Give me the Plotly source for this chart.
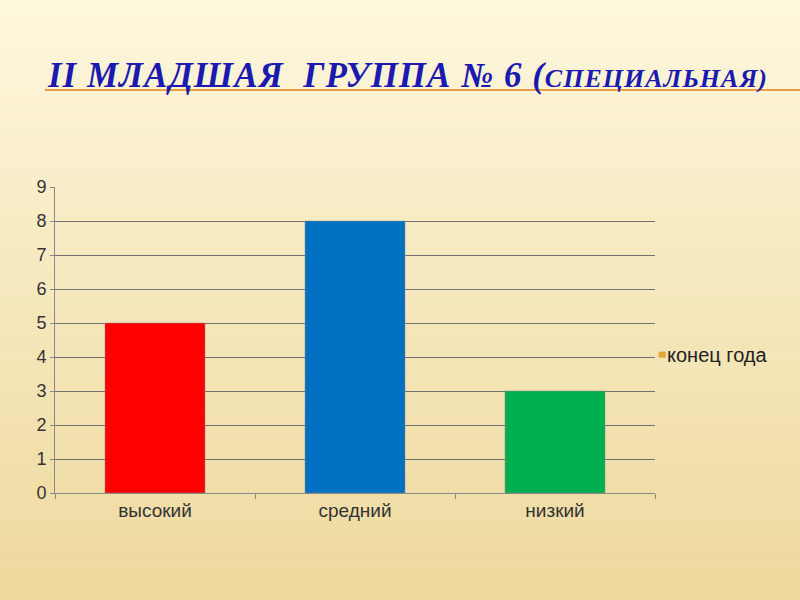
import plotly.graph_objects as go

categories = ["высокий", "средний", "низкий"]
values = [5, 8, 3]
bar_colors = ["#ff0000", "#0070c0", "#00b050"]
series_name = "конец года"
legend_color = "#e0a838"
y_ticks = list(range(0, 10))

fig = go.Figure()

fig.add_trace(go.Bar(
    x=categories,
    y=values,
    name=series_name,
    marker=dict(color=bar_colors, line=dict(color="#8a8a8a", width=0.5)),
    showlegend=False,
))

# background: vertical gradient made of bands
bands = 40
top = (254, 248, 222)
bottom = (238, 216, 155)
shapes = []
for i in range(bands):
    t = i / (bands - 1)
    c = tuple(int(top[k] + (bottom[k] - top[k]) * t) for k in range(3))
    shapes.append(dict(
        type="rect", xref="paper", yref="paper", layer="below",
        x0=-0.2, x1=1.3, y0=1.65 - (i + 1) * 2.1 / bands, y1=1.65 - i * 2.1 / bands,
        fillcolor="rgb(%d,%d,%d)" % c, line=dict(width=0),
    ))
# title underline
shapes.append(dict(
    type="line", xref="paper", yref="paper",
    x0=-0.017, x1=1.25, y0=1.317, y1=1.317,
    line=dict(color="#e8a040", width=2),
))
# legend key (drawn by hand so the text sits close to the square)
shapes.append(dict(
    type="rect", xref="paper", yref="paper",
    x0=1.006, x1=1.018, y0=0.442, y1=0.462,
    fillcolor=legend_color, line=dict(width=0),
))

title_html = ("<span style='letter-spacing:1px'>II МЛАДШАЯ  ГРУППА № 6 ("
              "<span style='font-size:26px'>СПЕЦИАЛЬНАЯ)</span></span>")

fig.update_layout(
    width=800, height=600,
    margin=dict(l=55, r=145, t=187, b=107),
    paper_bgcolor="#f6e7b8",
    plot_bgcolor="rgba(0,0,0,0)",
    bargap=0.5,
    shapes=shapes,
    showlegend=False,
    annotations=[
        dict(text=title_html, xref="paper", yref="paper",
             x=-0.017, y=1.295, xanchor="left", yanchor="bottom", showarrow=False,
             font=dict(family="Liberation Serif", size=35, color="#1a1ab0",
                       weight="bold", style="italic")),
        dict(text=series_name, xref="paper", yref="paper",
             x=1.02, y=0.452, xanchor="left", yanchor="middle", showarrow=False,
             xshift=-2,
             font=dict(family="Liberation Sans", size=20, color="#222")),
    ],
    font=dict(family="Liberation Sans", size=18, color="#333"),
)
fig.update_xaxes(
    showline=True, linecolor="#888", linewidth=1,
    ticks="outside", ticklen=5, tickcolor="#888", tickson="boundaries",
    showgrid=False, tickfont=dict(size=19, color="#333"),
)
fig.update_yaxes(
    range=[0, 9], tickvals=y_ticks, showline=True, linecolor="#888", linewidth=1,
    ticks="outside", ticklen=4, tickcolor="#888",
    showgrid=True, gridcolor="#707070", gridwidth=1, zeroline=False,
    tickfont=dict(size=18, color="#333"),
)

fig.write_html("out.html", config={"displayModeBar": False},
               post_script="document.body.style.margin='0';")
